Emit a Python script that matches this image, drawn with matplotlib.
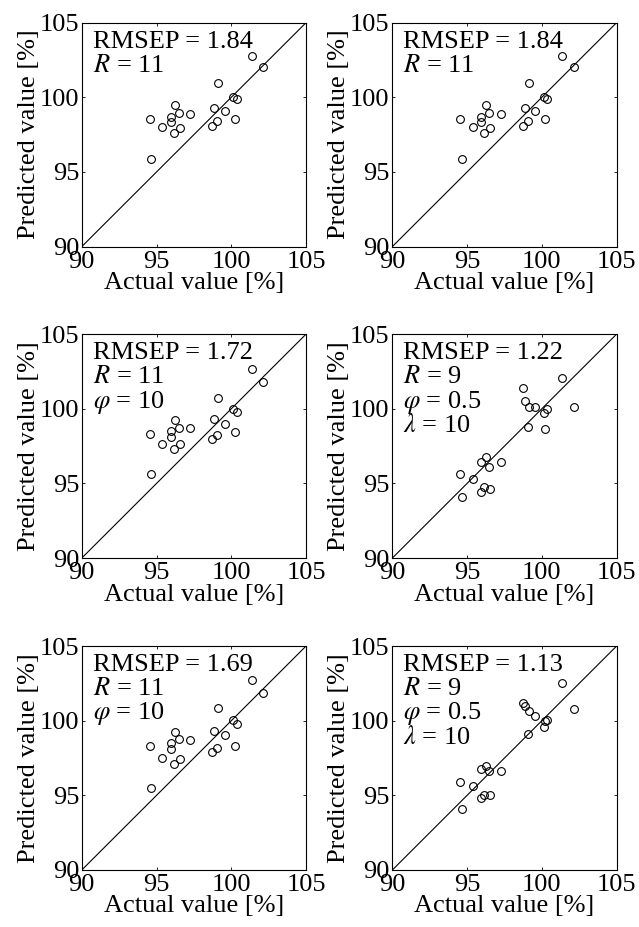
import matplotlib
matplotlib.use("Agg")
import matplotlib.pyplot as plt

plt.rcParams["font.family"] = ["Liberation Serif", "DejaVu Serif"]
plt.rcParams["mathtext.fontset"] = "stix"
plt.rcParams["font.size"] = 19

# actual values, same samples in every panel
actual = [101.35, 102.15, 99.13, 100.11, 100.35, 96.24, 98.86, 96.47, 97.24, 99.55,
          94.55, 95.95, 95.95, 100.24, 99.06, 98.73, 95.37, 96.56, 96.16, 94.65]

# predicted values per panel
pred_1 = [102.77, 102.01, 100.94, 100.02, 99.87, 99.46, 99.31, 98.97, 98.91, 99.11,
          98.53, 98.66, 98.37, 98.55, 98.44, 98.10, 97.99, 97.95, 97.59, 95.87]
pred_2 = pred_1
pred_3 = [102.66, 101.80, 100.75, 99.99, 99.77, 99.24, 99.28, 98.73, 98.71, 98.98,
          98.31, 98.51, 98.11, 98.47, 98.27, 98.00, 97.67, 97.61, 97.32, 95.64]
pred_4 = [102.04, 100.14, 100.12, 99.70, 99.96, 96.75, 100.50, 96.13, 96.40, 100.12,
          95.64, 96.46, 94.44, 98.63, 98.80, 101.39, 95.28, 94.60, 94.75, 94.12]
pred_5 = [102.70, 101.83, 100.83, 100.02, 99.80, 99.22, 99.31, 98.75, 98.73, 99.04,
          98.33, 98.50, 98.10, 98.30, 98.17, 97.92, 97.50, 97.41, 97.12, 95.47]
pred_6 = [102.54, 100.80, 100.65, 99.55, 100.07, 96.99, 101.00, 96.63, 96.63, 100.34,
          95.87, 96.76, 94.82, 99.95, 99.12, 101.20, 95.63, 95.00, 95.02, 94.11]

annotations = [
    ["RMSEP = 1.84", "$R$ = 11"],
    ["RMSEP = 1.84", "$R$ = 11"],
    ["RMSEP = 1.72", "$R$ = 11", r"$\varphi$ = 10"],
    ["RMSEP = 1.22", "$R$ = 9", r"$\varphi$ = 0.5", r"$\lambda$ = 10"],
    ["RMSEP = 1.69", "$R$ = 11", r"$\varphi$ = 10"],
    ["RMSEP = 1.13", "$R$ = 9", r"$\varphi$ = 0.5", r"$\lambda$ = 10"],
]
preds = [pred_1, pred_2, pred_3, pred_4, pred_5, pred_6]
ticks = [90, 95, 100, 105]

fig = plt.figure(figsize=(6.39, 9.27), dpi=100)

lefts = [0.128, 0.614]
bottoms = [0.734, 0.398, 0.0615]
w, h = 0.351, 0.2416

for i, (pred, lines) in enumerate(zip(preds, annotations)):
    row, col = divmod(i, 2)
    ax = fig.add_axes([lefts[col], bottoms[row], w, h])
    ax.plot([90, 105], [90, 105], color="black", lw=0.8)
    ax.plot(actual, pred, "o", mfc="none", mec="black", ms=5.6, mew=0.8)
    ax.set_xlim(90, 105)
    ax.set_ylim(90, 105)
    ax.set_xticks(ticks)
    ax.set_yticks(ticks)
    ax.tick_params(direction="in", top=True, right=True, length=2.5,
                   width=0.6, labelsize=19)
    ax.tick_params(axis="x", pad=3)
    ax.tick_params(axis="y", pad=2)
    for s in ax.spines.values():
        s.set_linewidth(0.8)
    ax.set_xlabel("Actual value [%]", fontsize=19, labelpad=-0.5)
    ax.set_ylabel("Predicted value [%]", fontsize=19, labelpad=0)
    for k, t in enumerate(lines):
        ax.text(0.048, 0.888 - k * 0.108, t, transform=ax.transAxes,
                fontsize=19, va="baseline", ha="left")

fig.savefig("out.png", dpi=100)
